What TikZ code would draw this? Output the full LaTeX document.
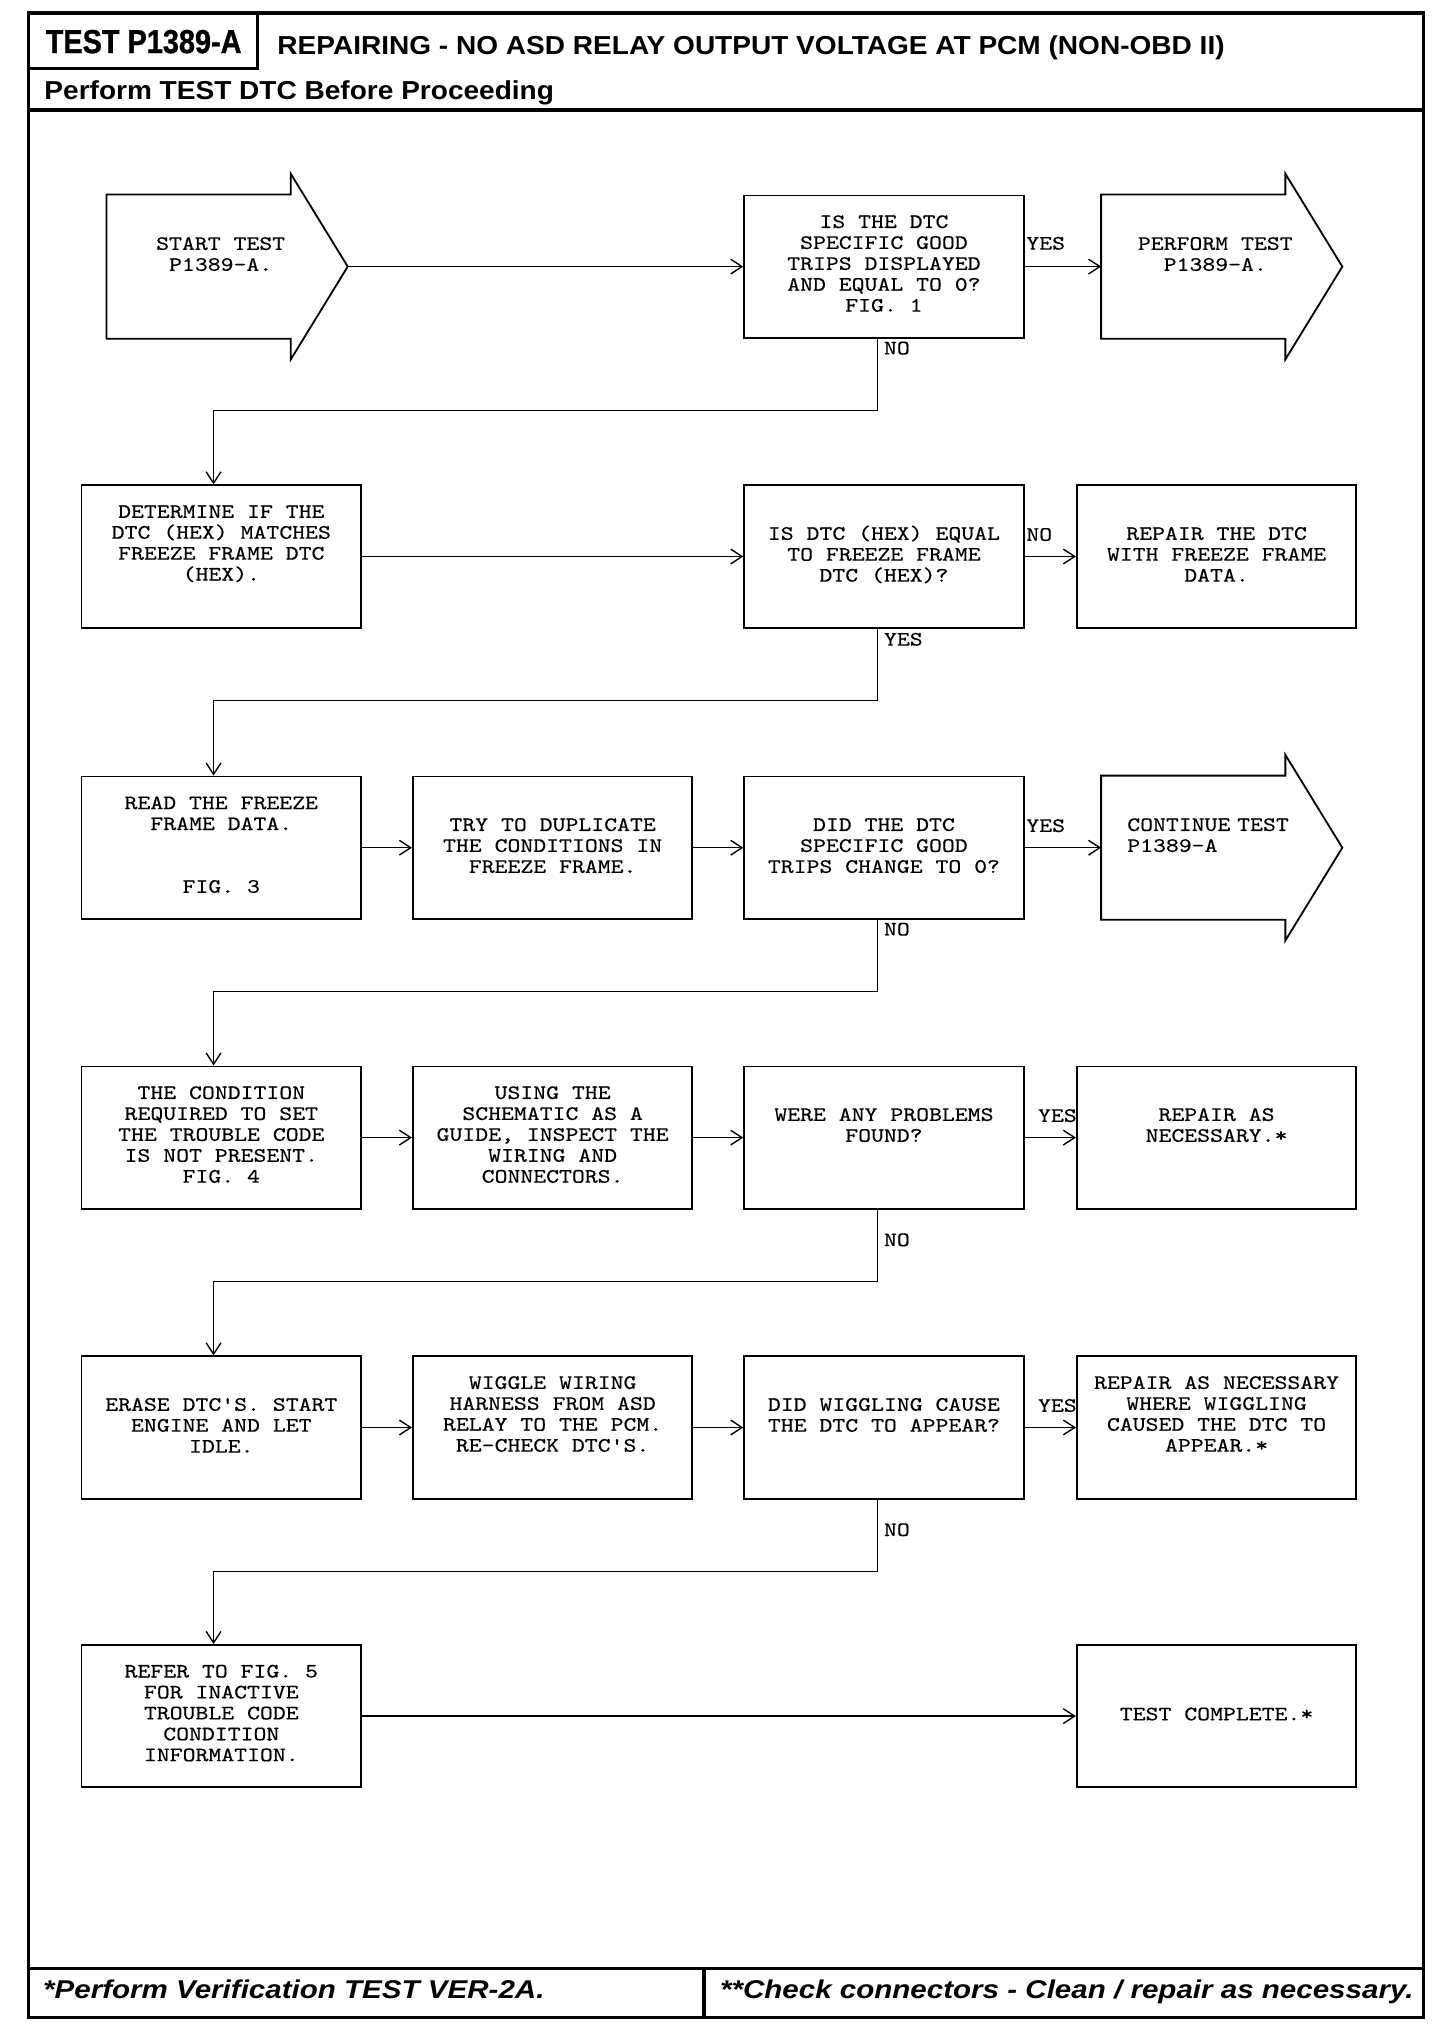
\documentclass[tikz,border=0pt]{standalone}
\usepackage{fontspec}
\usetikzlibrary{arrows.meta}

\newfontfamily\boxface{lmmono10-regular.otf}[FakeStretch=1.2,FakeBold=0.4]
\newfontfamily\idface{Liberation Sans}[FakeStretch=0.87,FakeBold=1]
\newfontfamily\headface{Liberation Sans}[FakeStretch=1.08]
\newfontfamily\footface{Liberation Sans}[FakeStretch=1.15]
\newcommand\boxfont{\boxface\fontsize{9}{9.2}\selectfont}
\newcommand\blankrow{\strut}
\newcommand\padright{\rule{0.2cm}{0pt}}

\begin{document}
\begin{tikzpicture}[
    x=0.02cm, y=-0.02cm,
    % ~~~ page frame ~~~~~~~~~~~~~~~~~~~~~~~
    frameline/.style={line width=1.4pt},
    % ~~~ flowchart boxes ~~~~~~~~~~~~~~~~~~~
    stepbox/.style={
        draw, line width=0.8pt,
        minimum width=4.32cm, minimum height=2.2cm,
        inner sep=0pt, align=center, font=\boxfont,
        execute at begin node=\strut,
        execute at end node=\strut
    },
    arrowbody/.style={stepbox, draw=none, minimum width=3.7cm},
    % ~~~ yes / no tags and connectors ~~~~~~~
    tag/.style={font=\boxfont, inner sep=0pt},
    flow/.style={line width=0.6pt, -{Straight Barb[length=5pt,width=6.5pt]}},
 ]
    \useasboundingbox (0,0) rectangle (1125,1567);

    % ~~~ frame and headings ~~~~~~~~~~~~~~~~~~~~~~~~~~~~~~~~
    \draw[frameline] (22,10) rectangle (1100,1559);
    \draw[frameline] (199,10) -- (199,53) -- (22,53);
    \draw[frameline] (22,85) -- (1100,85);
    \draw[frameline] (22,1521) -- (1100,1521);
    \draw[frameline] (544,1521) -- (544,1559);

    \node[inner sep=0pt, anchor=base, font=\idface\bfseries\fontsize{14.6}{16}\selectfont]
        (testid) at (111,41) {TEST P1389-A};
    \node[inner sep=0pt, anchor=base west, font=\headface\bfseries\fontsize{11.42}{13}\selectfont]
        (heading) at (214,42) {REPAIRING - NO ASD RELAY OUTPUT VOLTAGE AT PCM (NON-OBD II)};
    \node[inner sep=0pt, anchor=base west, font=\headface\bfseries\fontsize{11.42}{13}\selectfont]
        (before) at (34,77) {Perform TEST DTC Before Proceeding};
    \node[inner sep=0pt, anchor=base west, font=\footface\bfseries\itshape\fontsize{11.3}{13}\selectfont]
        (verify) at (33,1544) {*Perform Verification TEST VER-2A.};
    \node[inner sep=0pt, anchor=base west, font=\footface\bfseries\itshape\fontsize{11.3}{13}\selectfont]
        (check) at (556,1544) {**Check connectors - Clean / repair as necessary.};

    % ~~~ row 1 ~~~~~~~~~~~~~~~~~~~~~~~~~~~~~~~~~~~~~~~~~~~~~
    \node[arrowbody] (start) at (175.5,206)
        {\blankrow\\START TEST\padright\\P1389-A.\padright\\\blankrow\\\blankrow};
    \node[stepbox] (isgood) at (683,206)
        {IS THE DTC\\SPECIFIC GOOD\\TRIPS DISPLAYED\\AND EQUAL TO 0?\\FIG. 1};
    \node[arrowbody] (perform) at (944,206)
        {\blankrow\\PERFORM TEST\padright\\P1389-A.\padright\\\blankrow\\\blankrow};

    % ~~~ row 2 ~~~~~~~~~~~~~~~~~~~~~~~~~~~~~~~~~~~~~~~~~~~~~
    \node[stepbox] (determine) at (171,430)
        {DETERMINE IF THE\\DTC (HEX) MATCHES\\FREEZE FRAME DTC\\(HEX).\\\blankrow};
    \node[stepbox] (ishex) at (683,430)
        {\blankrow\\IS DTC (HEX) EQUAL\\TO FREEZE FRAME\\DTC (HEX)?\\\blankrow};
    \node[stepbox] (repairdtc) at (940,430)
        {\blankrow\\REPAIR THE DTC\\WITH FREEZE FRAME\\DATA.\\\blankrow};

    % ~~~ row 3 ~~~~~~~~~~~~~~~~~~~~~~~~~~~~~~~~~~~~~~~~~~~~~
    \node[stepbox] (readff) at (171,655)
        {READ THE FREEZE\\FRAME DATA.\\\blankrow\\\blankrow\\FIG. 3};
    \node[stepbox] (trydup) at (427,655)
        {\blankrow\\TRY TO DUPLICATE\\THE CONDITIONS IN\\FREEZE FRAME.\\\blankrow};
    \node[stepbox] (didzero) at (683,655)
        {\blankrow\\DID THE DTC\\SPECIFIC GOOD\\TRIPS CHANGE TO 0?\\\blankrow};
    \node[arrowbody, align=left, text width=2.92cm] (goon) at (944,655)
        {\blankrow\\CONTINUE TEST\\P1389-A\\\blankrow\\\blankrow};

    % ~~~ row 4 ~~~~~~~~~~~~~~~~~~~~~~~~~~~~~~~~~~~~~~~~~~~~~
    \node[stepbox] (condition) at (171,879)
        {THE CONDITION\\REQUIRED TO SET\\THE TROUBLE CODE\\IS NOT PRESENT.\\FIG. 4};
    \node[stepbox] (inspect) at (427,879)
        {USING THE\\SCHEMATIC AS A\\GUIDE, INSPECT THE\\WIRING AND\\CONNECTORS.};
    \node[stepbox] (problems) at (683,879)
        {\blankrow\\WERE ANY PROBLEMS\\FOUND?\\\blankrow\\\blankrow};
    \node[stepbox] (repairnec) at (940,879)
        {\blankrow\\REPAIR AS\\NECESSARY.*\\\blankrow\\\blankrow};

    % ~~~ row 5 ~~~~~~~~~~~~~~~~~~~~~~~~~~~~~~~~~~~~~~~~~~~~~
    \node[stepbox] (erase) at (171,1103)
        {\blankrow\\ERASE DTC'S. START\\ENGINE AND LET\\IDLE.\\\blankrow};
    \node[stepbox] (wiggle) at (427,1103)
        {WIGGLE WIRING\\HARNESS FROM ASD\\RELAY TO THE PCM.\\RE-CHECK DTC'S.\\\blankrow};
    \node[stepbox] (didwiggle) at (683,1103)
        {\blankrow\\DID WIGGLING CAUSE\\THE DTC TO APPEAR?\\\blankrow\\\blankrow};
    \node[stepbox] (repairwig) at (940,1103)
        {REPAIR AS NECESSARY\\WHERE WIGGLING\\CAUSED THE DTC TO\\APPEAR.*\\\blankrow};

    % ~~~ row 6 ~~~~~~~~~~~~~~~~~~~~~~~~~~~~~~~~~~~~~~~~~~~~~
    \node[stepbox] (refer) at (171,1326)
        {REFER TO FIG. 5\\FOR INACTIVE\\TROUBLE CODE\\CONDITION\\INFORMATION.};
    \node[stepbox] (complete) at (940,1326)
        {\blankrow\\\blankrow\\TEST COMPLETE.*\\\blankrow\\\blankrow};

    % ~~~ outlines of the big arrows ~~~~~~~~~~~~~~~~~~~~~~~~
    \foreach \n in {start,perform,goon}
        \draw[line width=0.8pt] (\n.north west)
            -- ([xshift=-0.88cm]\n.north east)
            -- ([xshift=-0.88cm,yshift=0.32cm]\n.north east)
            -- (\n.east)
            -- ([xshift=-0.88cm,yshift=-0.32cm]\n.south east)
            -- ([xshift=-0.88cm]\n.south east)
            -- (\n.south west) -- cycle;

    % ~~~ connectors ~~~~~~~~~~~~~~~~~~~~~~~~~~~~~~~~~~~~~~~~
    \foreach \a/\b in {start/isgood, isgood/perform,
                       determine/ishex, ishex/repairdtc,
                       readff/trydup, trydup/didzero, didzero/goon,
                       condition/inspect, inspect/problems, problems/repairnec,
                       erase/wiggle, wiggle/didwiggle, didwiggle/repairwig,
                       refer/complete}
        \draw[flow] (\a) -- (\b);
    \foreach \a/\b in {isgood/determine, ishex/readff, didzero/condition,
                       problems/erase, didwiggle/refer}
        \draw[flow] ([xshift=-0.1cm]\a.south) -- ++(0,55.5)
            -| ([xshift=-0.12cm]\b.north);

    % ~~~ yes / no tags ~~~~~~~~~~~~~~~~~~~~~~~~~~~~~~~~~~~~~
    \node[tag] (yesgood)   at (808,188)  {YES};
    \node[tag] (nogood)    at (693,269)  {NO};
    \node[tag] (nohex)     at (803,413)  {NO};
    \node[tag] (yeshex)    at (698,494)  {YES};
    \node[tag] (yeszero)   at (808,638)  {YES};
    \node[tag] (nozero)    at (693,718)  {NO};
    \node[tag] (yesprob)   at (817,862)  {YES};
    \node[tag] (noprob)    at (693,958)  {NO};
    \node[tag] (yeswiggle) at (817,1086) {YES};
    \node[tag] (nowiggle)  at (693,1182) {NO};
\end{tikzpicture}
\end{document}
